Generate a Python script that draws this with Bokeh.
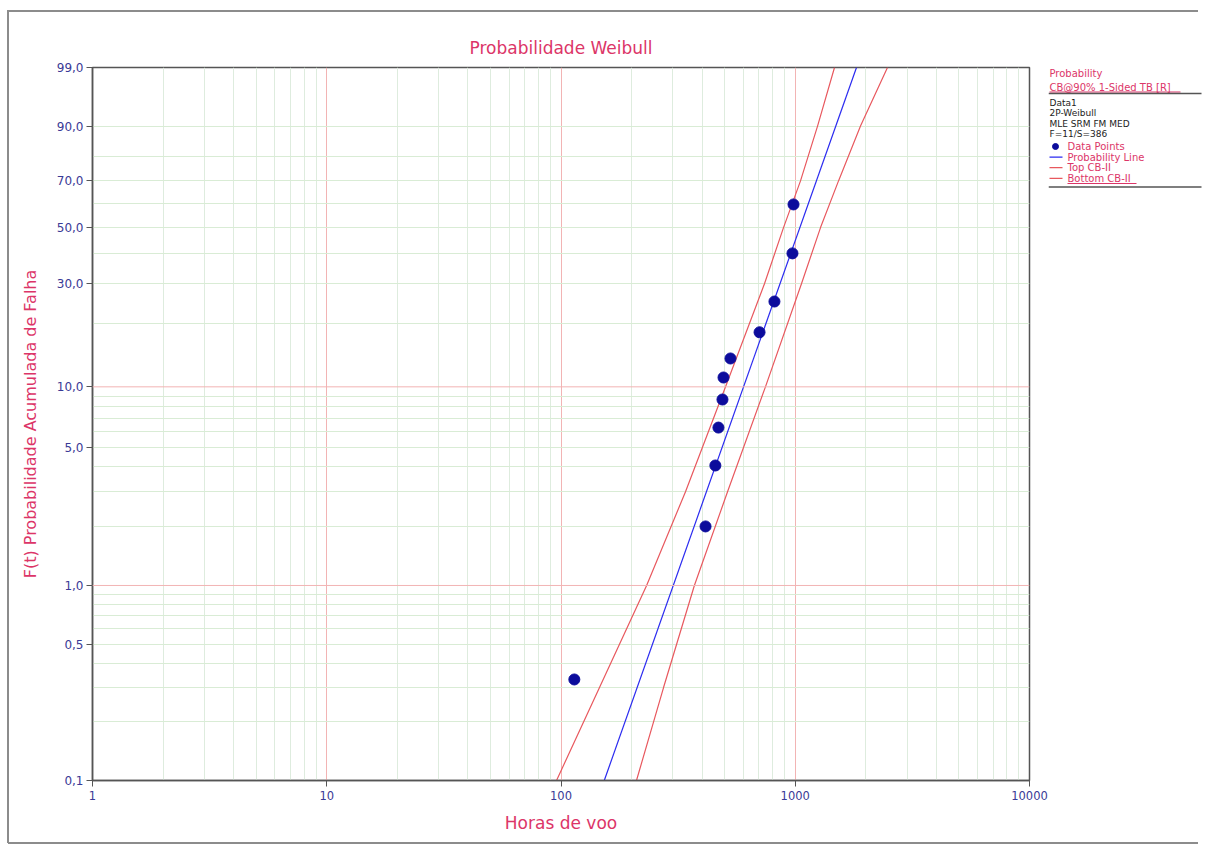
import math
from bokeh.plotting import figure
from bokeh.layouts import row
from bokeh.models import (FixedTicker, Span, Range1d, CustomJSTickFormatter)
from bokeh.core.properties import value
from bokeh.embed import file_html
from bokeh.resources import INLINE

# ---------------- data ----------------
hours = [114, 414, 456, 470, 489, 494, 529, 704, 815, 973, 983]
unreliability_pct = [0.33, 2.0, 4.07, 6.3, 8.67, 11.1, 13.7, 18.2, 25.1, 40.0, 59.8]

prob_line_hours = [153, 1826]
prob_line_pct = [0.1, 99.0]

cb_pct = [0.1, 0.3, 1.0, 3.0, 10.0, 30.0, 50.0, 70.0, 90.0, 99.0]
top_cb_hours = [95.7, 146, 232, 340, 504, 739, 891, 1053, 1245, 1471]
bottom_cb_hours = [210, 274, 371, 514, 746, 1063, 1282, 1530, 1899, 2476]

y_tick_pct = [0.1, 0.5, 1.0, 5.0, 10.0, 30.0, 50.0, 70.0, 90.0, 99.0]
y_tick_labels = ["0,1", "0,5", "1,0", "5,0", "10,0", "30,0", "50,0", "70,0", "90,0", "99,0"]
y_minor_pct = [0.2, 0.3, 0.4, 0.5, 0.6, 0.7, 0.8, 0.9,
               2, 3, 4, 5, 6, 7, 8, 9,
               20, 30, 40, 50, 60, 70, 80, 90]
y_major_grid_pct = [1.0, 10.0]

x_ticks = [1, 10, 100, 1000, 10000]
x_tick_labels = ["1", "10", "100", "1000", "10000"]
x_minor = [m * 10 ** k for k in range(4) for m in range(2, 10)]

header_lines = ["Probability", "CB@90% 1-Sided TB [R]"]
info_lines = ["Data1", "2P-Weibull", "MLE SRM FM MED", "F=11/S=386"]
legend_labels = ["Data Points", "Probability Line", "Top CB-II", "Bottom CB-II"]


def wb(pct):
    """Weibull probability-paper transform of an unreliability in %."""
    return math.log(-math.log(1.0 - pct / 100.0))


PINK = "#dc3568"
NAVY = "#3a3a96"
RED = "#e8585e"
BLUE = "#2a2af0"
DOT = "#0c0c9c"
FRAME = "#555555"
FONT = "DejaVu Sans"

H = 846
MAIN_W = 1048
FL, FR, FT, FB = 92, 1029, 67, 780  # plot frame edges in page px

p = figure(width=MAIN_W, height=H, x_axis_type="log",
           x_range=Range1d(1, 10000), y_range=Range1d(wb(0.1), wb(99.0)),
           output_backend="svg", toolbar_location=None,
           min_border_left=FL, min_border_right=MAIN_W - FR,
           min_border_top=FT, min_border_bottom=H - FB,
           background_fill_color="white", border_fill_color=None)

p.title.text = "Probabilidade Weibull"
p.title.align = "center"
p.title.text_color = PINK
p.title.text_font = FONT
p.title.text_font_size = "17px"
p.title.text_font_style = "normal"
p.title.standoff = 20

p.outline_line_color = FRAME
p.outline_line_width = 1.5

# axes
p.xaxis.ticker = FixedTicker(ticks=x_ticks, minor_ticks=x_minor)
p.xaxis.formatter = CustomJSTickFormatter(
    args=dict(tv=x_ticks, tl=x_tick_labels),
    code="let b=0; for (let i=0;i<tv.length;i++){ if (Math.abs(Math.log(tv[i])-Math.log(tick)) < Math.abs(Math.log(tv[b])-Math.log(tick))) b=i; } return tl[b];")
y_tick_vals = [wb(v) for v in y_tick_pct]
p.yaxis.ticker = FixedTicker(ticks=y_tick_vals, minor_ticks=[wb(v) for v in y_minor_pct])
p.yaxis.formatter = CustomJSTickFormatter(
    args=dict(tv=y_tick_vals, tl=y_tick_labels),
    code="let b=0; for (let i=0;i<tv.length;i++){ if (Math.abs(tv[i]-tick) < Math.abs(tv[b]-tick)) b=i; } return tl[b];")

for ax in (p.xaxis[0], p.yaxis[0]):
    ax.axis_line_color = FRAME
    ax.axis_line_width = 1.5
    ax.major_tick_line_color = FRAME
    ax.major_tick_out = 6
    ax.major_tick_in = 0
    ax.minor_tick_line_color = None
    ax.major_label_text_color = NAVY
    ax.major_label_text_font = FONT
    ax.axis_label_text_color = PINK
    ax.axis_label_text_font = FONT
    ax.axis_label_text_font_style = "normal"

p.xaxis.major_label_text_font_size = "11.5px"
p.yaxis.major_label_text_font_size = "12px"
p.xaxis.axis_label = "Horas de voo"
p.xaxis.axis_label_text_font_size = "17px"
p.xaxis.major_label_standoff = 4
p.xaxis.axis_label_standoff = 10
p.yaxis.axis_label = "F(t) Probabilidade Acumulada de Falha"
p.yaxis.axis_label_text_font_size = "16px"
p.yaxis.major_label_standoff = 3
p.yaxis.axis_label_standoff = 14

# grids
p.xgrid.grid_line_color = "#f2b4b4"
p.xgrid.minor_grid_line_color = "#deecde"
p.ygrid.grid_line_color = None
p.ygrid.minor_grid_line_color = "#d9ecd5"
for v in y_major_grid_pct:
    p.add_layout(Span(location=wb(v), dimension="width", line_color="#f2b4b4", line_width=1))

# series
p.line(top_cb_hours, [wb(v) for v in cb_pct], line_color=RED, line_width=1.2)
p.line(bottom_cb_hours, [wb(v) for v in cb_pct], line_color=RED, line_width=1.2)
p.line(prob_line_hours, [wb(v) for v in prob_line_pct], line_color=BLUE, line_width=1.2)
p.scatter(hours, [wb(v) for v in unreliability_pct], size=11, color=DOT)

# ---------------- side panel (legend block) ----------------
# its plot frame is aligned with the main frame, so the y range maps page px FT..FB
SIDE_W = 1205 - MAIN_W
s = figure(width=SIDE_W, height=H, x_range=Range1d(MAIN_W, 1205), y_range=Range1d(FB, FT),
           output_backend="svg", toolbar_location=None,
           min_border_left=0, min_border_right=0,
           min_border_top=FT, min_border_bottom=H - FB,
           background_fill_color=None, border_fill_color=None, outline_line_color=None)
s.axis.visible = False
s.grid.visible = False

TX = MAIN_W + 1
s.text(x=[TX] * len(header_lines), y=[73, 86.5], text=header_lines,
       text_font=value(FONT), text_font_size="10px", text_color=PINK, text_baseline="middle")
s.text(x=[TX] * len(info_lines), y=[102 + 10.5 * i for i in range(len(info_lines))], text=info_lines,
       text_font=value(FONT), text_font_size="9px", text_color="#222222", text_baseline="middle")
leg_y = [146 + 10.6 * i for i in range(len(legend_labels))]
s.text(x=[1067] * len(legend_labels), y=leg_y, text=legend_labels,
       text_font=value(FONT), text_font_size="10px", text_color=PINK, text_baseline="middle")
s.scatter(x=[1055], y=[leg_y[0]], size=6, color=DOT)
for yy, col in zip(leg_y[1:], [BLUE, RED, RED]):
    s.line(x=[1049, 1062], y=[yy, yy], line_color=col, line_width=1.2)
# underlines and separators
for (x0, x1, yy, col, lw) in [(TX, 1180, 91.5, PINK, 1), (MAIN_W, 1201, 93, FRAME, 1.5),
                              (1067, 1136, 183, PINK, 1), (MAIN_W, 1201, 186.5, FRAME, 1.5)]:
    s.line(x=[x0, x1], y=[yy, yy], line_color=col, line_width=lw)

layout = row(p, s, spacing=0)
g = "linear-gradient(#8c8c8c,#8c8c8c)"
layout.styles = {
    "background-color": "white",
    "background-image": f"{g}, {g}, {g}",
    "background-size": "1190px 2px, 2px 833px, 1190px 2px",
    "background-position": "8px 10px, 7px 10px, 8px 842px",
    "background-repeat": "no-repeat, no-repeat, no-repeat",
}

open("out.html", "w").write(file_html(layout, INLINE))
